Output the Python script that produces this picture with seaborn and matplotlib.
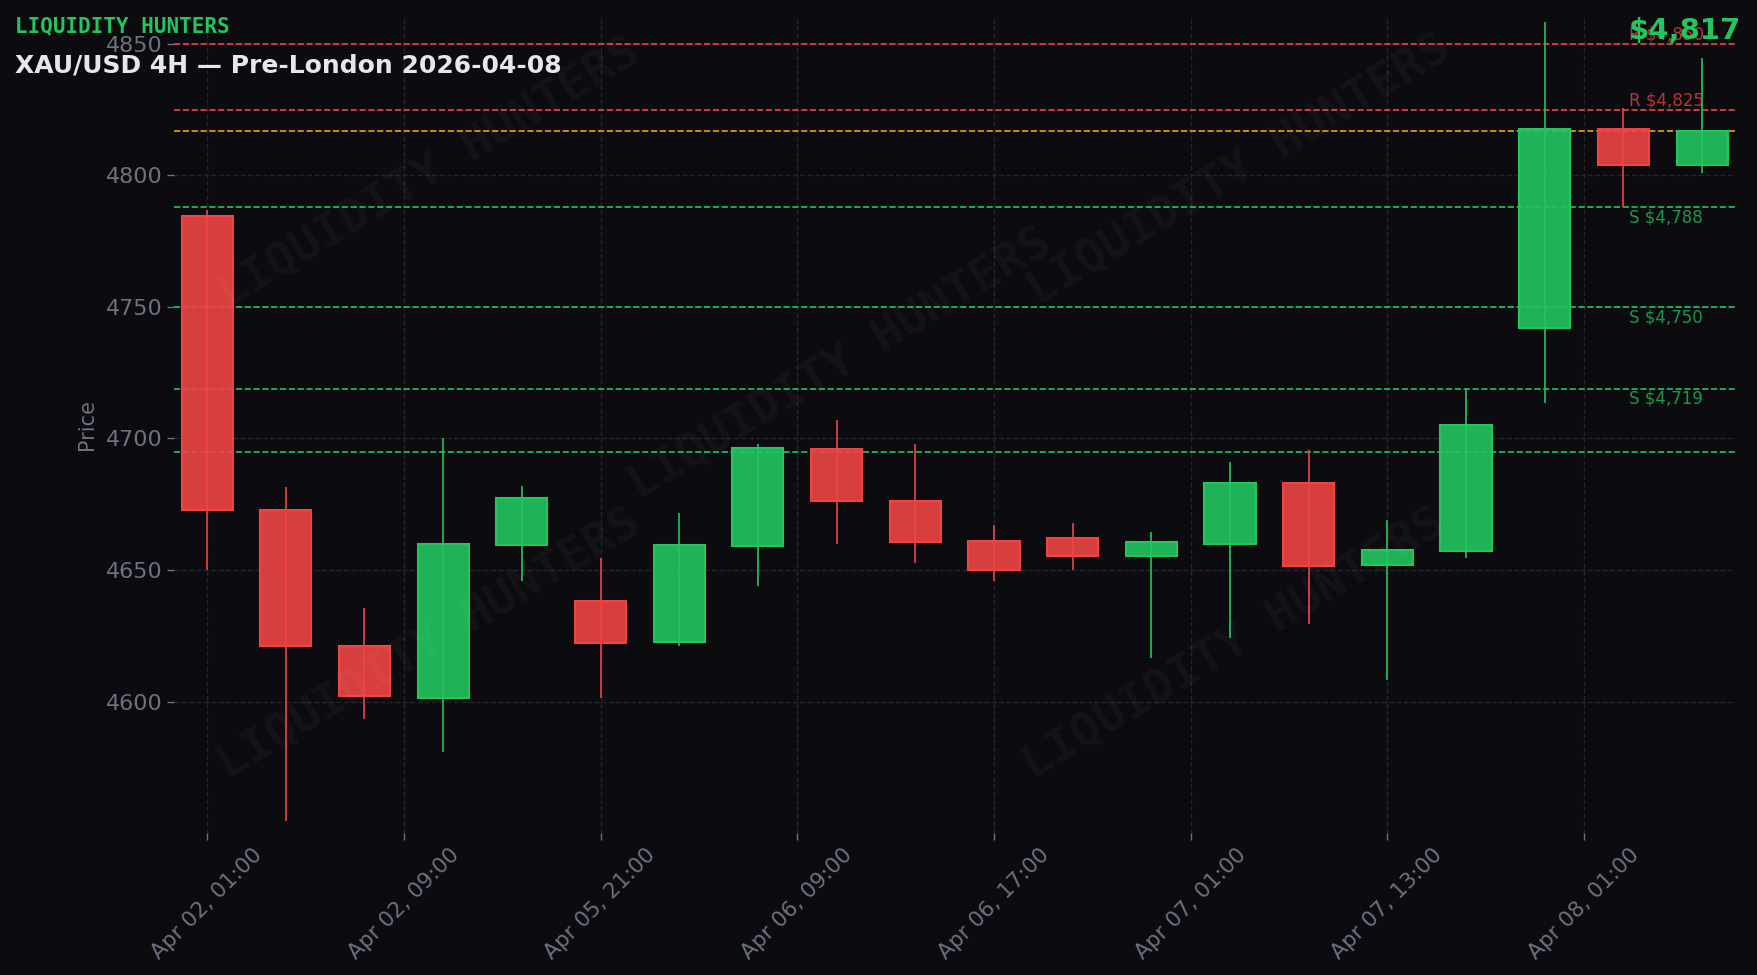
import numpy as np
import pandas as pd
import matplotlib
matplotlib.use("Agg")
import matplotlib.pyplot as plt
import matplotlib.transforms as mtransforms
from matplotlib.ticker import FuncFormatter
import seaborn as sns

# 4H candles
times = ["Apr 02, 01:00", "Apr 02, 05:00", "Apr 02, 09:00", "Apr 02, 13:00", "Apr 02, 17:00",
         "Apr 05, 21:00", "Apr 06, 01:00", "Apr 06, 05:00", "Apr 06, 09:00", "Apr 06, 13:00",
         "Apr 06, 17:00", "Apr 06, 21:00", "Apr 07, 01:00", "Apr 07, 05:00", "Apr 07, 09:00",
         "Apr 07, 13:00", "Apr 07, 17:00", "Apr 07, 21:00", "Apr 08, 01:00", "Apr 08, 05:00"]
opens = [4784.7, 4673.0, 4621.0, 4601.5, 4659.5, 4638.4, 4622.5, 4659.2, 4696.0, 4676.3,
         4661.0, 4662.0, 4655.5, 4660.0, 4683.0, 4652.0, 4657.2, 4742.0, 4817.6, 4804.0]
highs = [4787.0, 4681.5, 4635.5, 4700.0, 4682.0, 4654.6, 4671.7, 4698.0, 4707.0, 4698.0,
         4667.0, 4668.0, 4664.4, 4691.0, 4695.5, 4669.0, 4719.0, 4858.5, 4825.7, 4844.5]
lows = [4650.0, 4554.5, 4593.4, 4581.0, 4646.0, 4601.2, 4621.0, 4643.8, 4660.0, 4652.5,
        4646.0, 4650.0, 4616.6, 4624.0, 4629.4, 4608.0, 4654.6, 4713.5, 4788.0, 4801.0]
closes = [4673.0, 4621.0, 4602.0, 4659.7, 4677.3, 4622.4, 4659.4, 4696.4, 4676.2, 4660.6,
          4650.0, 4655.5, 4660.6, 4683.0, 4651.6, 4657.6, 4705.0, 4817.6, 4804.0, 4817.0]

resistance = [4850, 4825]
support = [4788, 4750, 4719]
extra_support = [4695]
last_price = 4817

BG = "#0b0b10"
GREEN = "#22c55e"
RED = "#ef4444"
GREY = "#6b7280"

df = pd.DataFrame({"time": times, "open": opens, "high": highs, "low": lows, "close": closes})
df["x"] = np.arange(len(df))
df["up"] = df["close"] >= df["open"]
df["color"] = np.where(df["up"], GREEN, RED)
df["bottom"] = df[["open", "close"]].min(axis=1)
df["height"] = (df["close"] - df["open"]).abs().clip(lower=0.5)

sns.set_theme(style="dark")
sns.set_style({"axes.facecolor": BG, "figure.facecolor": BG})
plt.rcParams["font.family"] = ["DejaVu Sans"]

fig = plt.figure(figsize=(17.58, 9.75), dpi=100)
ax = fig.add_axes([0.099, 0.1456, 0.888, 0.839])
ax.set_facecolor(BG)

# wicks + bodies
ax.vlines(df["x"], df["low"], df["high"], colors=df["color"], linewidth=1.2, zorder=3)
ax.bar(df["x"], df["height"], bottom=df["bottom"], width=0.65, color=df["color"],
       alpha=0.9, edgecolor="none", zorder=4)
ax.bar(df["x"], df["height"], bottom=df["bottom"], width=0.65, facecolor="none",
       edgecolor=df["color"], linewidth=1.5, zorder=5)

# levels
lbl_tr = mtransforms.blended_transform_factory(ax.transAxes, ax.transData)
for lvl in resistance:
    ax.axhline(lvl, color=RED, linestyle="--", linewidth=1.2, zorder=2)
    ax.text(0.932, lvl + 0.2, f"R ${lvl:,}", transform=lbl_tr, color=RED, alpha=0.75,
            fontsize=12, ha="left", va="bottom", zorder=6)
for lvl in support:
    ax.axhline(lvl, color=GREEN, linestyle="--", linewidth=1.2, zorder=2)
    ax.text(0.932, lvl - 0.5, f"S ${lvl:,}", transform=lbl_tr, color=GREEN, alpha=0.75,
            fontsize=12, ha="left", va="top", zorder=6)
for lvl in extra_support:
    ax.axhline(lvl, color=GREEN, linestyle="--", linewidth=1.2, zorder=2)
ax.axhline(last_price, color="#f59e0b", linestyle="--", linewidth=1.2, zorder=2)

ax.set_xlim(-0.42, len(df) - 0.58)
ax.set_ylim(4550, 4861)
ax.set_yticks(np.arange(4600, 4851, 50))
ax.set_xticks(np.arange(0, len(df), 2.5))
ax.xaxis.set_major_formatter(FuncFormatter(lambda v, p: times[int(round(v))] if 0 <= round(v) < len(times) else ""))
plt.setp(ax.get_xticklabels(), rotation=45, ha="center")

ax.grid(True, color="#23242c", linestyle="--", linewidth=1.0)
ax.tick_params(colors=GREY, labelsize=15.5, length=5, width=1, bottom=True, left=True)
ax.tick_params(axis="y", labelsize=16)
ax.set_ylabel("Price", color=GREY, fontsize=15, labelpad=6)
ax.set_xlabel("")
sns.despine(ax=ax, left=True, bottom=True)

# watermark
for wx, wy in [(0.244, 0.822), (0.705, 0.825), (0.478, 0.626), (0.244, 0.339), (0.702, 0.339)]:
    fig.text(wx, wy, "LIQUIDITY HUNTERS", family="DejaVu Sans Mono", fontweight="bold",
             fontsize=34, color="white", alpha=0.035, rotation=31, ha="center", va="center",
             zorder=10)

fig.text(0.0085, 0.9725, "LIQUIDITY HUNTERS", family="DejaVu Sans Mono", fontweight="bold",
         fontsize=15, color=GREEN, ha="left", va="center")
fig.text(0.0085, 0.933, "XAU/USD 4H \u2014 Pre-London 2026-04-08", fontweight="bold",
         fontsize=18, color="#e5e7eb", ha="left", va="center")
fig.text(0.9905, 0.968, f"${last_price:,}", fontweight="bold", fontsize=21, color=GREEN,
         ha="right", va="center")

fig.savefig("out.png", dpi=100, facecolor=BG)
